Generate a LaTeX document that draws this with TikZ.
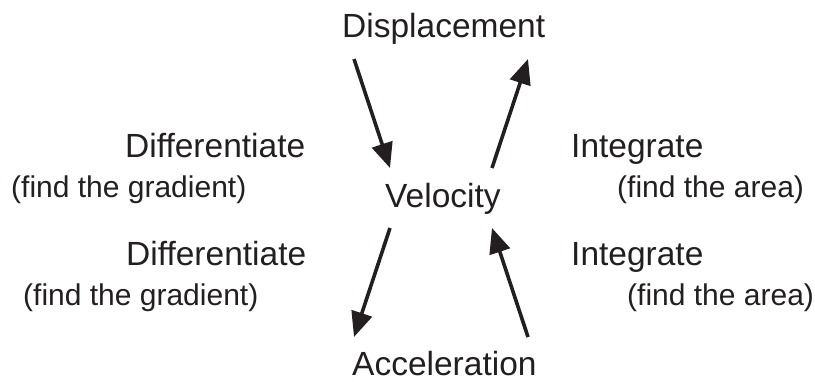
\documentclass[tikz,border=0pt]{standalone}
\usepackage{fontspec}
\setmainfont{Liberation Sans}
\usetikzlibrary{arrows.meta}
\definecolor{ink}{HTML}{231F20}
\begin{document}
\begin{tikzpicture}[x=1pt,y=-1pt,
  big/.style={anchor=base west,inner sep=0pt,text=ink,font=\fontsize{33.5}{36}\selectfont},
  small/.style={anchor=base west,inner sep=0pt,text=ink,font=\fontsize{30}{33}\selectfont},
  arr/.style={draw=ink,line width=3.6pt,-{Triangle[length=25pt,width=21pt]}}]
\useasboundingbox (0,0) rectangle (815,381);
\node[big] (disp) at (342,37) {Displacement};
\node[big] (vel) at (385,207) {Velocity};
\node[big] (acc) at (352,375) {Acceleration};
\node[big] (dif1) at (125,157) {Differentiate};
\node[small] (grad1) at (11,197) {(find the gradient)};
\node[big] (dif2) at (126,265) {Differentiate};
\node[small] (grad2) at (23,305) {(find the gradient)};
\node[big] (int1) at (571,157) {Integrate};
\node[small] (area1) at (617,197) {(find the area)};
\node[big] (int2) at (571,265) {Integrate};
\node[small] (area2) at (627,305) {(find the area)};
\coordinate (a1s) at (354,59);
\coordinate (a1e) at (390,168);
\coordinate (a2s) at (492,168);
\coordinate (a2e) at (528,59);
\coordinate (a3s) at (390,228);
\coordinate (a3e) at (354,337);
\coordinate (a4s) at (528,337);
\coordinate (a4e) at (492,228);
\draw[arr] (a1s) -- (a1e);
\draw[arr] (a2s) -- (a2e);
\draw[arr] (a3s) -- (a3e);
\draw[arr] (a4s) -- (a4e);
\end{tikzpicture}
\end{document}
